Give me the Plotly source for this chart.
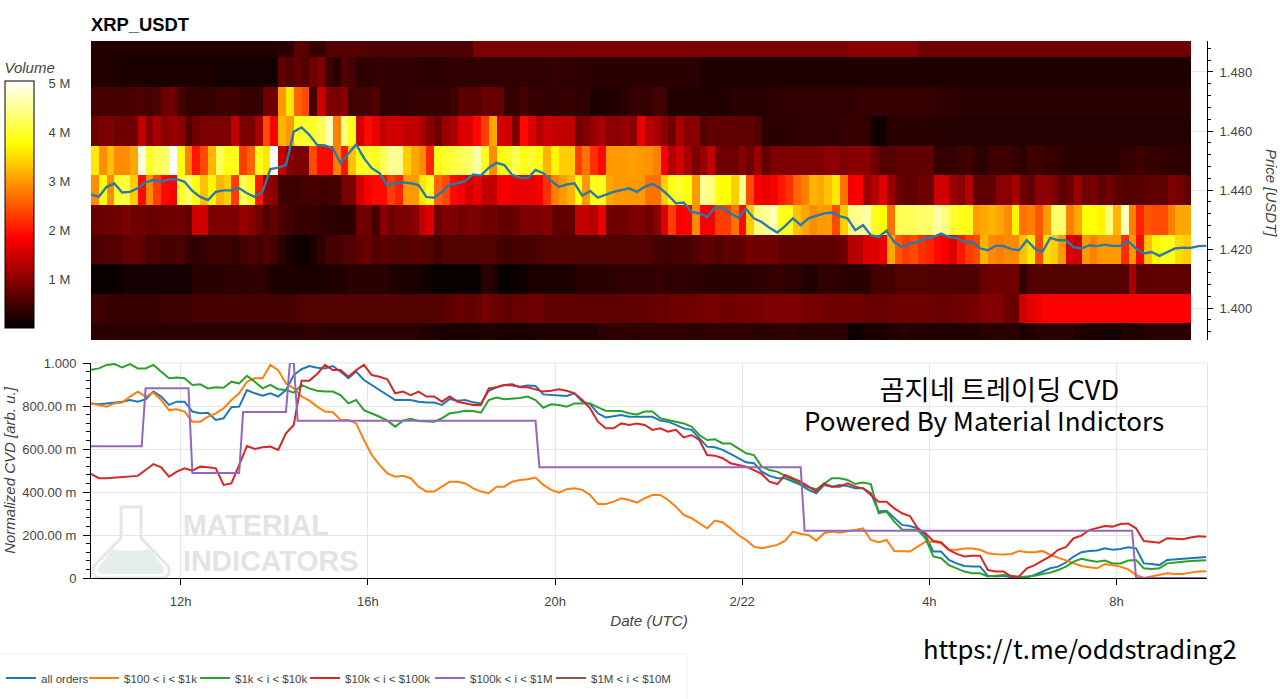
import pandas as pd
import plotly.graph_objects as go

W, H = 1280, 699

# --- heatmap volume per price level (millions), 10-minute columns ---
price_levels = [1.39, 1.40, 1.41, 1.42, 1.43, 1.44, 1.45, 1.46, 1.47, 1.48, 1.49]

vol_149 = [.25,.25,.25,.25,.25,.25,.25,.25,.25,.25,.25,.25,.25,.25,.25,.25,.25,.25,.25,.25,.25,.25,.25,.25,.3,.3,.65,.65,.4,.4,.6,.6,.6,.6,.6,.6,
 .55,.55,.55,.55,.55,.55,.55,.55,.55,.55,.55,.55,.55,.9,.9,.9,.9,.9,.9,.9,.9,.9,.9,.9,.9,.9,.9,.9,.9,.9,.9,.9,.9,.9,.9,.9,
 .9,.9,.9,.9,.9,.9,.9,.9,.9,.9,.9,.9,.9,.9,.9,.9,.9,.9,.9,.9,.9,.9,.9,.9,.9,1.0,1.0,1.0,1.0,1.0,1.0,1.0,1.0,1.0,.8,.8,
 .8,.8,.8,.8,.8,.8,.8,.8,.8,.8,.8,.8,.8,.8,.8,.8,.8,.8,.8,.8,.8,.8,.8,.8,.8,.8,.8,.8,.8,.8,.8,.8,.8]
vol_148 = [.25,.25,.25,.2,.2,.2,.2,.2,.2,.2,.2,.2,.2,.2,.2,.2,.15,.15,.15,.15,.15,.15,.15,.15,.7,.6,.7,.6,.8,.9,.45,.3,.6,.5,.35,.35,
 .4,.4,.35,.35,.35,.35,.3,.3,.3,.35,.35,.35,.35,.35,.35,.35,.35,.35,.35,.35,.35,.35,.35,.4,.35,.35,.35,.35,.3,.3,.3,.3,.3,.3,.3,.3,
 .3,.3,.3,.3,.3,.3,.22,.22,.22,.22,.22,.22,.22,.22,.22,.22,.22,.22,.22,.22,.22,.22,.22,.22,.22,.22,.22,.22,.22,.22,.22,.22,.22,.22,.22,.22,
 .22,.22,.22,.22,.22,.22,.22,.22,.22,.22,.22,.22,.22,.22,.22,.22,.22,.22,.22,.22,.22,.22,.22,.22,.22,.22,.22,.22,.22,.22,.22,.22,.22]
vol_147 = [.5,.5,.5,.5,.5,.55,.55,.5,.55,.8,.8,.5,.4,.4,.4,.4,.45,.45,.45,.4,.4,.4,.8,.8,3.0,3.6,2.6,2.4,.5,1.5,.9,.9,1.0,.5,.45,.5,
 .6,.35,.35,.35,.35,.4,.4,.4,.4,.4,.45,.65,.65,.65,.75,.75,.7,.4,.4,.5,.4,.4,.35,.35,.4,.4,.35,.35,.2,.2,.25,.25,.3,.4,.4,.4,
 .5,.45,.25,.25,.25,.25,.25,.25,.25,.25,.3,.3,.3,.3,.3,.35,.35,.35,.35,.35,.35,.35,.35,.35,.35,.35,.4,.4,.4,.4,.4,.4,.4,.4,.4,.4,
 .35,.35,.35,.3,.3,.3,.3,.3,.3,.3,.3,.3,.3,.3,.3,.3,.3,.3,.3,.3,.3,.3,.3,.3,.3,.3,.3,.3,.3,.3,.3,.3,.3]
vol_146 = [.8,.9,.9,.8,.8,.8,1.4,1.0,1.2,1.0,1.1,1.0,.6,.8,.9,.9,.9,.9,1.4,.9,.9,1.2,2.4,1.8,3.2,3.0,3.9,4.0,4.0,4.2,4.7,2.8,4.4,3.9,1.5,1.9,
 1.7,1.4,1.5,1.5,1.4,1.4,1.2,1.0,.8,1.1,1.2,1.6,1.6,1.9,2.3,3.1,1.5,1.5,.9,1.9,1.6,1.3,1.5,1.4,1.4,1.4,.8,.9,1.1,1.2,1.0,1.0,1.1,1.0,1.7,1.3,
 1.2,1.0,.8,1.2,1.0,1.0,.6,.7,.7,.7,.7,.7,.7,.6,.3,.3,.3,.3,.35,.35,.35,.35,.35,.35,.4,.4,.4,.35,.12,.12,.3,.3,.3,.3,.3,.3,
 .27,.27,.27,.27,.27,.27,.27,.27,.27,.27,.27,.27,.27,.27,.27,.27,.27,.27,.27,.27,.27,.27,.27,.27,.27,.27,.27,.27,.27,.27,.27,.27,.27]
vol_145 = [3.6,2.9,3.3,2.9,2.9,3.1,4.9,4.0,4.2,4.3,5.05,3.8,2.8,2.0,2.4,3.2,4.2,3.9,3.9,2.3,2.6,3.9,3.6,5.0,1.4,1.0,.9,.9,2.4,1.9,1.9,2.8,2.0,3.3,3.9,4.0,
 3.9,4.2,4.5,4.5,3.4,3.1,2.9,2.1,3.9,4.0,4.1,4.2,4.3,4.6,3.9,2.9,3.8,3.9,4.2,3.9,4.0,3.8,3.2,3.7,3.4,3.4,2.3,2.7,2.2,1.9,3.0,3.0,3.0,3.05,3.0,2.95,
 2.8,1.8,1.3,1.5,1.2,.9,1.1,1.4,.8,.8,.8,1.0,.8,1.1,.7,.9,.9,.9,.9,.9,.9,.9,1.0,1.0,.9,1.0,1.0,1.0,.8,.6,.6,.7,.7,.7,.7,.7,
 .4,.4,.4,.45,.45,.35,.3,.45,.45,.45,.4,.3,.45,.45,.4,.4,.35,.3,.3,.3,.3,.3,.3,.3,.4,.4,.45,.4,.4,.35,.35,.3,.35]
vol_144 = [2.9,3.8,2.9,4.0,4.1,3.4,1.9,2.9,2.3,1.9,1.8,4.0,4.3,3.9,3.3,3.7,3.2,3.4,2.3,4.2,3.9,2.0,1.1,1.0,.45,.45,.45,.5,.5,.45,.5,.5,.85,.9,1.5,1.8,
 1.9,1.9,2.3,2.1,3.0,3.0,3.6,3.9,2.6,2.4,1.9,1.8,1.5,1.7,1.4,1.4,1.8,1.8,1.7,1.7,1.7,1.8,2.2,2.8,3.0,3.2,3.8,3.0,3.9,3.9,3.1,3.0,3.0,3.0,3.0,2.7,
 2.7,3.4,3.9,4.0,3.8,3.0,4.5,4.4,3.8,3.8,3.4,4.5,2.4,1.8,1.7,1.8,2.0,2.2,2.6,2.8,3.2,3.1,3.3,3.6,2.7,1.8,1.8,1.1,1.3,1.6,1.1,.8,.7,.7,.8,.8,
 1.5,1.5,1.1,1.0,1.3,.7,.7,.7,1.0,1.0,1.2,.8,.7,1.0,1.0,.9,.7,.8,1.1,.8,.9,.7,.8,.7,.6,.6,.6,.7,.7,.7,.9,.85,.7]
vol_143 = [.75,.75,.8,.8,.9,.8,.8,.75,.75,.8,.8,.8,.7,1.5,1.5,.9,.95,.9,.9,1.1,1.0,.8,.6,.7,.55,.5,.4,.4,.4,.35,.35,.3,.3,.3,.8,.8,
 .5,1.0,.8,.9,.9,1.0,1.4,1.6,.8,.9,.9,.8,.9,.9,.8,.8,.7,.7,.75,.9,.9,.9,1.0,.7,.7,.7,1.4,1.4,1.3,1.7,.8,.8,.8,.9,.9,.8,
 1.0,1.6,2.3,1.8,1.85,2.9,1.8,1.8,2.3,2.3,2.7,1.9,3.4,4.4,4.5,4.7,3.9,3.9,3.3,3.1,2.9,3.0,3.0,2.4,3.4,4.4,4.5,4.6,3.9,3.8,2.7,4.2,4.2,4.2,4.3,4.3,
 4.6,4.4,4.0,3.9,3.9,3.0,3.1,3.2,3.1,2.9,3.7,2.7,2.8,2.5,3.0,4.3,4.3,2.8,3.1,3.8,3.8,3.7,4.4,3.2,4.7,2.8,2.1,2.5,2.4,2.4,2.8,3.1,3.1]
vol_142 = [.55,.6,.6,.6,.7,.75,.7,.55,.55,.5,.5,.55,.4,.35,.4,.45,.45,.45,.4,.5,.55,.5,.6,.5,.3,.2,.1,.1,.2,.35,.5,.5,.6,.6,.7,.75,
 .6,.65,.65,.6,.6,.65,.65,.6,.5,.6,.6,.6,.6,.6,.6,.6,.5,.45,.5,.5,.5,.55,.6,.6,.6,.6,.6,.6,.6,.6,.6,.6,.6,.6,.6,.6,
 .5,.45,.5,.5,.5,.6,.7,.7,.6,.7,.7,.7,.85,.8,.8,.8,.7,.7,.7,.7,.7,.7,.7,.7,.8,1.3,1.3,1.6,1.6,1.7,3.1,2.5,2.3,2.4,2.2,2.1,
 1.9,1.8,1.6,2.0,2.3,2.4,3.2,2.9,2.8,2.9,2.9,3.3,3.6,2.4,3.5,3.4,3.0,1.6,1.5,3.0,2.8,3.0,3.0,3.0,2.2,3.0,1.9,3.3,3.7,3.9,3.9,3.5,3.4]
vol_141 = [.07,.07,.07,.07,.15,.15,.15,.15,.15,.15,.15,.15,.15,.3,.3,.3,.3,.35,.35,.3,.35,.35,.3,.2,.2,.2,.2,.2,.2,.2,.25,.25,.25,.3,.3,.3,
 .3,.3,.25,.2,.2,.2,.15,.1,.08,.08,.08,.08,.08,.08,.3,.25,.05,.05,.08,.12,.2,.2,.2,.2,.2,.2,.3,.3,.3,.3,.3,.35,.35,.35,.35,.35,
 .4,.4,.35,.35,.35,.35,.3,.3,.3,.3,.3,.3,.3,.35,.35,.4,.4,.3,.3,.25,.25,.35,.35,.35,.3,.3,.3,.3,.5,.5,.5,.6,.6,.6,.6,.6,
 .55,.6,.55,.55,.55,.55,.75,.8,.8,.8,.8,.4,.6,.6,.6,.6,.6,.6,.6,.6,.6,.6,.6,.6,.6,1.2,.7,.7,.7,.7,.7,.7,.7]
vol_140 = [.45,.45,.4,.4,.4,.4,.4,.4,.4,.45,.45,.45,.45,.5,.5,.5,.5,.5,.5,.5,.5,.5,.5,.5,.5,.5,.55,.6,.6,.6,.6,.6,.6,.6,.6,.6,
 .6,.6,.6,.6,.6,.6,.6,.6,.6,.65,.7,.75,.7,.75,.85,.75,.75,.7,.75,.75,.8,.8,.7,.7,.7,.7,.7,.7,.7,.7,.7,.7,.7,.7,.7,.7,
 .75,.75,.8,.8,.8,.8,.85,.85,.85,.8,.8,.85,.85,.85,.9,.9,.9,.9,.9,.85,.85,.85,.8,.8,.8,.8,.8,.75,.75,.75,.8,.8,.8,.8,.8,.8,
 .75,.75,.8,.8,.85,.85,.95,.95,.95,.8,.75,1.5,1.65,1.75,1.85,1.85,1.85,1.85,1.85,1.85,1.85,1.85,1.85,1.85,1.85,1.85,1.85,1.85,1.85,1.85,1.85,1.85,1.85]
vol_139 = [.3,.3,.3,.3,.3,.3, .3,.3,.3,.3,.3,.3, .3,.3,.3,.3,.3,.3, .3,.3,.3,.3,.3,.3, .3,.3,.3,.35,.35,.35, .3,.3,.3,.3,.3,.3,
 .3,.3,.3,.3,.3,.3,.25,.25,.2,.2,.2,.2,.2,.2,.25,.25,.2,.2,.2,.2,.2,.25,.25,.25,.25,.25,.25,.25,.25,.3,.35,.35,.35,.3,.35,.35,
 .35,.35,.35,.35,.3,.3,.3,.35,.35,.35,.35,.35,.35,.3,.3,.3,.35,.35,.3,.3,.3,.3,.3,.3,.3,.1,.1,.2,.2,.2,.25,.25,.3,.25,.25,.25,
 .25,.25,.25,.25,.25,.25,.3,.3,.3,.3,.3,.2,.25,.3,.3,.3,.3,.3,.25,.2,.2,.2,.15,.15,.25,.25,.25,.3,.3,.3,.3,.3,.3]

# --- order-book price line ---
price = [1.4385,1.4377,1.4411,1.4422,1.4392,1.4394,1.4406,1.4426,1.4434,1.4428,1.4436,1.4437,1.4428,1.4397,1.4377,1.4366,1.4394,1.4399,1.4399,1.4406,1.4389,1.4377,1.4394,1.4471,1.4476,1.4485,1.4598,1.4612,1.4587,1.4553,1.4551,1.4542,1.4491,1.4525,1.4555,1.4508,
 1.4474,1.4457,1.4417,1.4423,1.4426,1.4423,1.4417,1.4377,1.4374,1.4394,1.4419,1.4423,1.4431,1.4453,1.4449,1.4476,1.4492,1.4485,1.4451,1.4442,1.4440,1.4468,1.4457,1.4432,1.4411,1.4419,1.4423,1.4381,1.4397,1.4374,1.4385,1.4394,1.4400,1.4406,1.4394,1.4411,
 1.4421,1.4406,1.4383,1.4355,1.4358,1.4326,1.4321,1.4309,1.4340,1.4340,1.4321,1.4306,1.4336,1.4304,1.4292,1.4272,1.4256,1.4278,1.4304,1.4281,1.4304,1.4313,1.4321,1.4324,1.4312,1.4304,1.4264,1.4281,1.4247,1.4241,1.4262,1.4224,1.4207,1.4219,1.4224,1.4236,
 1.4241,1.4253,1.4241,1.4238,1.4224,1.4224,1.4202,1.4196,1.4211,1.4211,1.4200,1.4196,1.4230,1.4202,1.4190,1.4238,1.4230,1.4230,1.4207,1.4202,1.4213,1.4210,1.4215,1.4211,1.4211,1.4227,1.4202,1.4185,1.4190,1.4177,1.4190,1.4202,1.4205,1.4204,1.4210,1.4211]

# --- normalized CVD series ---
cvd_all = [.812,.808,.812,.816,.820,.828,.820,.831,.867,.844,.805,.820,.820,.774,.766,.769,.735,.743,.794,.797,.874,.859,.848,.859,.844,.874,.944,.971,.986,.978,.975,.986,.960,.929,.960,.921,.898,.874,.851,.828,.828,.828,.820,.816,
 .816,.805,.833,.825,.828,.817,.812,.871,.887,.898,.895,.890,.895,.893,.854,.851,.848,.847,.859,.820,.809,.766,.747,.753,.758,.750,.750,.750,.750,.732,.727,.712,.696,.689,.650,.611,.608,.596,.577,.557,.538,.534,.495,.475,.464,.464,.448,.433,.410,.394,.433,.425,.433,.428,.417,
 .417,.394,.309,.313,.278,.247,.242,.231,.200,.123,.123,.084,.068,.056,.053,.053,.010,.007,.010,.003,.003,.003,.014,.030,.045,.053,.072,.100,.120,.126,.128,.138,.131,.135,.143,.138,.068,.065,.060,.084,.087,.087,.093,.096,.098]
cvd_100_1k = [.812,.805,.797,.812,.816,.844,.867,.844,.862,.828,.781,.785,.774,.727,.727,.750,.766,.789,.828,.859,.913,.929,.929,.991,.967,.905,.882,.844,.825,.797,.774,.771,.735,.735,.719,.642,.572,.526,.487,.471,.475,.464,.425,.402,
 .402,.425,.448,.448,.440,.417,.402,.394,.425,.425,.448,.456,.459,.467,.433,.410,.397,.413,.417,.410,.386,.344,.344,.355,.371,.363,.351,.371,.386,.386,.363,.332,.293,.278,.255,.231,.267,.258,.231,.200,.177,.146,.138,.146,.154,.174,.216,.205,.200,.174,.208,.216,.211,.219,.223,
 .231,.177,.166,.177,.126,.124,.123,.146,.169,.169,.162,.131,.131,.137,.137,.131,.115,.110,.109,.112,.126,.120,.120,.126,.107,.095,.081,.068,.056,.050,.045,.065,.060,.053,.040,.014,.000,.007,.016,.022,.019,.019,.025,.030,.031]
cvd_1k_10k = [.968,.975,.991,.995,.980,.995,.975,.975,.991,.960,.929,.933,.929,.898,.901,.882,.887,.885,.913,.905,.940,.913,.882,.898,.878,.874,.862,.898,.882,.871,.867,.867,.851,.812,.828,.781,.766,.750,.732,.704,.732,.740,.730,.727,
 .727,.743,.766,.771,.778,.777,.769,.828,.839,.831,.833,.837,.844,.828,.792,.808,.805,.797,.812,.812,.812,.794,.778,.777,.777,.766,.761,.774,.774,.743,.735,.727,.719,.704,.665,.642,.645,.626,.626,.603,.580,.572,.518,.502,.495,.475,.456,.440,.422,.413,.440,.464,.464,.456,.437,
 .444,.437,.301,.309,.262,.226,.223,.223,.185,.100,.092,.060,.045,.030,.022,.022,.007,.011,.014,.010,.003,.007,.010,.019,.025,.037,.053,.076,.089,.081,.076,.081,.068,.068,.081,.084,.045,.042,.045,.068,.073,.076,.079,.081,.082]
cvd_10k_100k = [.484,.464,.464,.467,.471,.475,.475,.502,.530,.515,.471,.495,.510,.499,.518,.515,.510,.433,.440,.526,.614,.600,.608,.611,.596,.673,.712,.918,.918,.949,.991,.967,.967,.936,.967,.991,.944,.936,.924,.859,.867,.851,.867,.844,
 .844,.820,.844,.820,.812,.805,.805,.882,.887,.898,.901,.887,.887,.878,.867,.871,.878,.871,.859,.828,.789,.727,.696,.696,.719,.712,.719,.712,.689,.696,.681,.689,.654,.665,.642,.572,.569,.557,.534,.526,.518,.502,.484,.448,.437,.479,.464,.448,.425,.402,.440,.425,.425,.440,.425,
 .417,.386,.355,.355,.324,.301,.288,.231,.208,.172,.166,.131,.112,.100,.104,.104,.037,.030,.030,.007,.007,.045,.060,.081,.100,.131,.143,.185,.197,.223,.231,.242,.239,.251,.253,.231,.172,.169,.164,.185,.181,.180,.188,.194,.192]

# step series: breakpoint times and levels
cvd_100k_1m_t = ["2018-02-21 10:05","2018-02-21 11:10","2018-02-21 11:15","2018-02-21 12:10","2018-02-21 12:15","2018-02-21 13:15","2018-02-21 13:20","2018-02-21 14:15","2018-02-21 14:20","2018-02-21 14:25","2018-02-21 14:30","2018-02-21 19:35","2018-02-21 19:40","2018-02-22 01:15","2018-02-22 01:20","2018-02-22 08:20","2018-02-22 08:25","2018-02-22 09:55"]
cvd_100k_1m = [.613,.613,.882,.882,.488,.488,.772,.772,1.0,1.0,.731,.731,.515,.515,.220,.220,0,0]

legend_names = ["all orders", "$100 < i < $1k", "$1k < i < $10k", "$10k < i < $100k", "$100k < i < $1M", "$1M < i < $10M"]
line_colors = ["#1f77b4", "#ff7f0e", "#2ca02c", "#d62728", "#9467bd", "#8c564b"]
legend_text_x = [41, 124, 235, 345, 470, 591]

y_ticks_price = [1.40, 1.42, 1.44, 1.46, 1.48]
y_ticks_cvd = [0, .2, .4, .6, .8, 1.0]
y_text_cvd = ["0", "200.00 m", "400.00 m", "600.00 m", "800.00 m", "1.000"]
x_ticks = ["2018-02-21 12:00", "2018-02-21 16:00", "2018-02-21 20:00", "2018-02-22 00:00", "2018-02-22 04:00", "2018-02-22 08:00"]
x_text = ["12h", "16h", "20h", "2/22", "4h", "8h"]
vol_ticks = [1, 2, 3, 4, 5]
vol_text = ["1 M", "2 M", "3 M", "4 M", "5 M"]

rows = [vol_139, vol_140, vol_141, vol_142, vol_143, vol_144, vol_145, vol_146, vol_147, vol_148, vol_149]
lens = [len(r) for r in rows]
plens = [len(s) for s in [price, cvd_all, cvd_100_1k, cvd_1k_10k, cvd_10k_100k]]
assert all(n == 141 for n in lens) and all(n == 144 for n in plens), (lens, plens)

col_centres = pd.date_range("2018-02-21 10:10", periods=141, freq="10min")
line_times = pd.date_range("2018-02-21 10:05", periods=144, freq="10min")
x_range = ["2018-02-21 10:05", "2018-02-22 09:56"]

def px(x): return x / W
def py(y): return 1 - y / H

TXT = "#444444"
FONT = "Liberation Sans"
GRID = "#e6e6e6"
hot = [[0, "#000000"], [0.365, "#ff0000"], [0.746, "#ffff00"], [1, "#ffffff"]]

fig = go.Figure()
fig.add_trace(go.Heatmap(
    x=col_centres, y=price_levels, z=rows, xaxis="x", yaxis="y", zmin=0, zmax=5.05, colorscale=hot,
    showlegend=False, hoverinfo="skip",
    colorbar=dict(
        x=px(5), xanchor="left", y=py(59), yanchor="top", xpad=0, ypad=0,
        thicknessmode="pixels", thickness=29, lenmode="pixels", len=269,
        outlinecolor="#000000", outlinewidth=1,
        tickmode="array", tickvals=vol_ticks, ticktext=vol_text,
        ticks="outside", ticklen=12, tickcolor="rgba(0,0,0,0)",
        tickfont=dict(family=FONT, size=13, color=TXT),
        title=dict(text="Volume", side="top", font=dict(family=FONT, size=15, color=TXT, style="italic")),
    )))
fig.add_trace(go.Scatter(x=line_times, y=price, xaxis="x", yaxis="y", mode="lines", showlegend=False,
                         line=dict(color="#2a7aa8", width=2.4), hoverinfo="skip"))
series = [cvd_all, cvd_100_1k, cvd_1k_10k, cvd_10k_100k]
legend_ids = ["legend", "legend2", "legend3", "legend4", "legend5", "legend6"]
for i, vals in enumerate(series):
    fig.add_trace(go.Scatter(x=line_times, y=vals, xaxis="x2", yaxis="y2", mode="lines", name=legend_names[i],
                             legend=legend_ids[i], line=dict(color=line_colors[i], width=2)))
fig.add_trace(go.Scatter(x=cvd_100k_1m_t, y=cvd_100k_1m, xaxis="x2", yaxis="y2", mode="lines",
                         name=legend_names[4], legend=legend_ids[4], line=dict(color=line_colors[4], width=2)))
fig.add_trace(go.Scatter(x=[None], y=[None], xaxis="x2", yaxis="y2", mode="lines",
                         name=legend_names[5], legend=legend_ids[5], line=dict(color=line_colors[5], width=2)))

def pt(x, y): return f"{px(x):.5f},{py(y):.5f}"
flask = ("M " + pt(121, 507) + " L " + pt(141, 507) + " L " + pt(141, 538) + " L " + pt(168, 566) +
         " Q " + pt(172, 578) + " " + pt(160, 578) + " L " + pt(102, 578) + " Q " + pt(90, 578) + " " + pt(94, 566) +
         " L " + pt(121, 538) + " Z")
liquid = ("M " + pt(112, 549) + " Q " + pt(131, 553) + " " + pt(150, 549) + " L " + pt(164, 568) +
          " Q " + pt(166, 574) + " " + pt(158, 574) + " L " + pt(104, 574) + " Q " + pt(96, 574) + " " + pt(98, 568) + " Z")

shapes = [
    dict(type="path", xref="paper", yref="paper", path=liquid, fillcolor="#e4efec", line=dict(width=0), layer="below"),
    dict(type="path", xref="paper", yref="paper", path=flask, line=dict(color="#e6e6e6", width=3), layer="below"),
    dict(type="rect", xref="paper", yref="paper", x0=px(-2), x1=px(687), y0=py(654), y1=py(702),
         line=dict(color="#efefef", width=1), layer="below"),
    dict(type="line", xref="paper", yref="paper", x0=px(91), x1=px(1207), y0=py(363), y1=py(363), line=dict(color=GRID, width=1), layer="below"),
    dict(type="line", xref="paper", yref="paper", x0=px(1207.5), x1=px(1207.5), y0=py(363), y1=py(578), line=dict(color=GRID, width=1), layer="below"),
]
for v in vol_ticks:
    yy = 328 - v * (248 / 5.05)
    shapes.append(dict(type="line", xref="paper", yref="paper", x0=px(29), x1=px(34), y0=py(yy), y1=py(yy),
                       line=dict(color="#222222", width=1)))

def note(text, x, y, size, anchor="center", color="#000000", family="Noto Sans CJK KR", weight=None, angle=None):
    f = dict(family=family, size=size, color=color)
    if weight:
        f["weight"] = weight
    a = dict(text=text, xref="paper", yref="paper", x=px(x), y=py(y), xanchor=anchor, yanchor="middle",
             showarrow=False, font=f)
    if angle is not None:
        a["textangle"] = angle
    return a

overlay = ('<span style="font-size:27.3px">\u00a0\u00a0\u00a0\u00a0\u00a0곰지네 트레이딩 CVD</span><br>'
           '<span style="font-size:26px">Powered By Material Indictors</span>')
price_title = note("Price [USDT]", 1271, 193, 15, color=TXT, family=FONT, angle=90)
price_title["font"]["style"] = "italic"
annotations = [
    note(overlay, 984, 403, 24),
    note("https://t.me/oddstrading2", 1080, 647, 25.7),
    note("MATERIAL", 181, 525, 28.6, "left", "#e3e3e3", FONT, 700),
    note("INDICATORS", 181, 561, 28.6, "left", "#e3e3e3", FONT, 700),
    price_title,
]

legends = {}
for lid, tx in zip(legend_ids, legend_text_x):
    legends[lid] = dict(orientation="h", x=px(tx - 40), xanchor="left", y=py(678), yanchor="middle",
                        font=dict(family=FONT, size=11.5, color=TXT), itemwidth=30,
                        bgcolor="rgba(0,0,0,0)", borderwidth=0)

fig.update_layout(
    width=W, height=H, margin=dict(l=0, r=0, t=0, b=0, autoexpand=False),
    paper_bgcolor="#ffffff", plot_bgcolor="rgba(0,0,0,0)",
    font=dict(family=FONT, size=13, color=TXT),
    title=dict(text="XRP_USDT", x=px(91), xanchor="left", xref="paper", y=py(25), yanchor="middle", yref="paper",
               font=dict(family=FONT, size=18.4, color="#000000", weight=700)),
    xaxis=dict(domain=[px(91), px(1207)], range=x_range, type="date", anchor="y", showticklabels=False,
               showgrid=False, zeroline=False, showline=False, ticks=""),
    yaxis=dict(domain=[py(340), py(41)], range=[1.3892, 1.4905], side="right", anchor="x", tickmode="array",
               tickvals=y_ticks_price, ticktext=[f"{v:.3f}" for v in y_ticks_price], showgrid=True, gridcolor=GRID,
               showline=True, linecolor="#000000", linewidth=1, ticks="outside", ticklen=5, tickcolor="#000000",
               ticklabelstandoff=4,
               minor=dict(dtick=0.004, tick0=1.40, ticks="outside", ticklen=3, tickcolor="#000000", showgrid=False),
               tickfont=dict(family=FONT, size=13, color=TXT), zeroline=False),
    xaxis2=dict(domain=[px(91), px(1207)], range=x_range, type="date", anchor="y2", tickmode="array",
                tickvals=x_ticks, ticktext=x_text, showgrid=True, gridcolor=GRID, showline=True, linecolor="#000000",
                linewidth=1, ticks="outside", ticklen=6, tickcolor="#000000", zeroline=False, ticklabelstandoff=5,
                tickfont=dict(family=FONT, size=13, color=TXT),
                title=dict(text="Date (UTC)", standoff=7, font=dict(family=FONT, size=15.2, color=TXT, style="italic"))),
    yaxis2=dict(domain=[py(578), py(363)], range=[0, 1], anchor="x2", tickmode="array", tickvals=y_ticks_cvd,
                ticktext=y_text_cvd, showgrid=True, gridcolor=GRID, showline=True, linecolor="#000000", linewidth=1,
                ticks="outside", ticklen=7, tickcolor="#000000", zeroline=False, ticklabelstandoff=4,
                minor=dict(dtick=0.04, tick0=0, ticks="outside", ticklen=4, tickcolor="#000000", showgrid=False),
                tickfont=dict(family=FONT, size=13, color=TXT),
                title=dict(text="Normalized CVD [arb. u.]", standoff=2, font=dict(family=FONT, size=15, color=TXT, style="italic"))),
    shapes=shapes, annotations=annotations,
    **legends,
)
fig.write_html("out.html", post_script="document.body.style.margin='0';", config=dict(displayModeBar=False))
